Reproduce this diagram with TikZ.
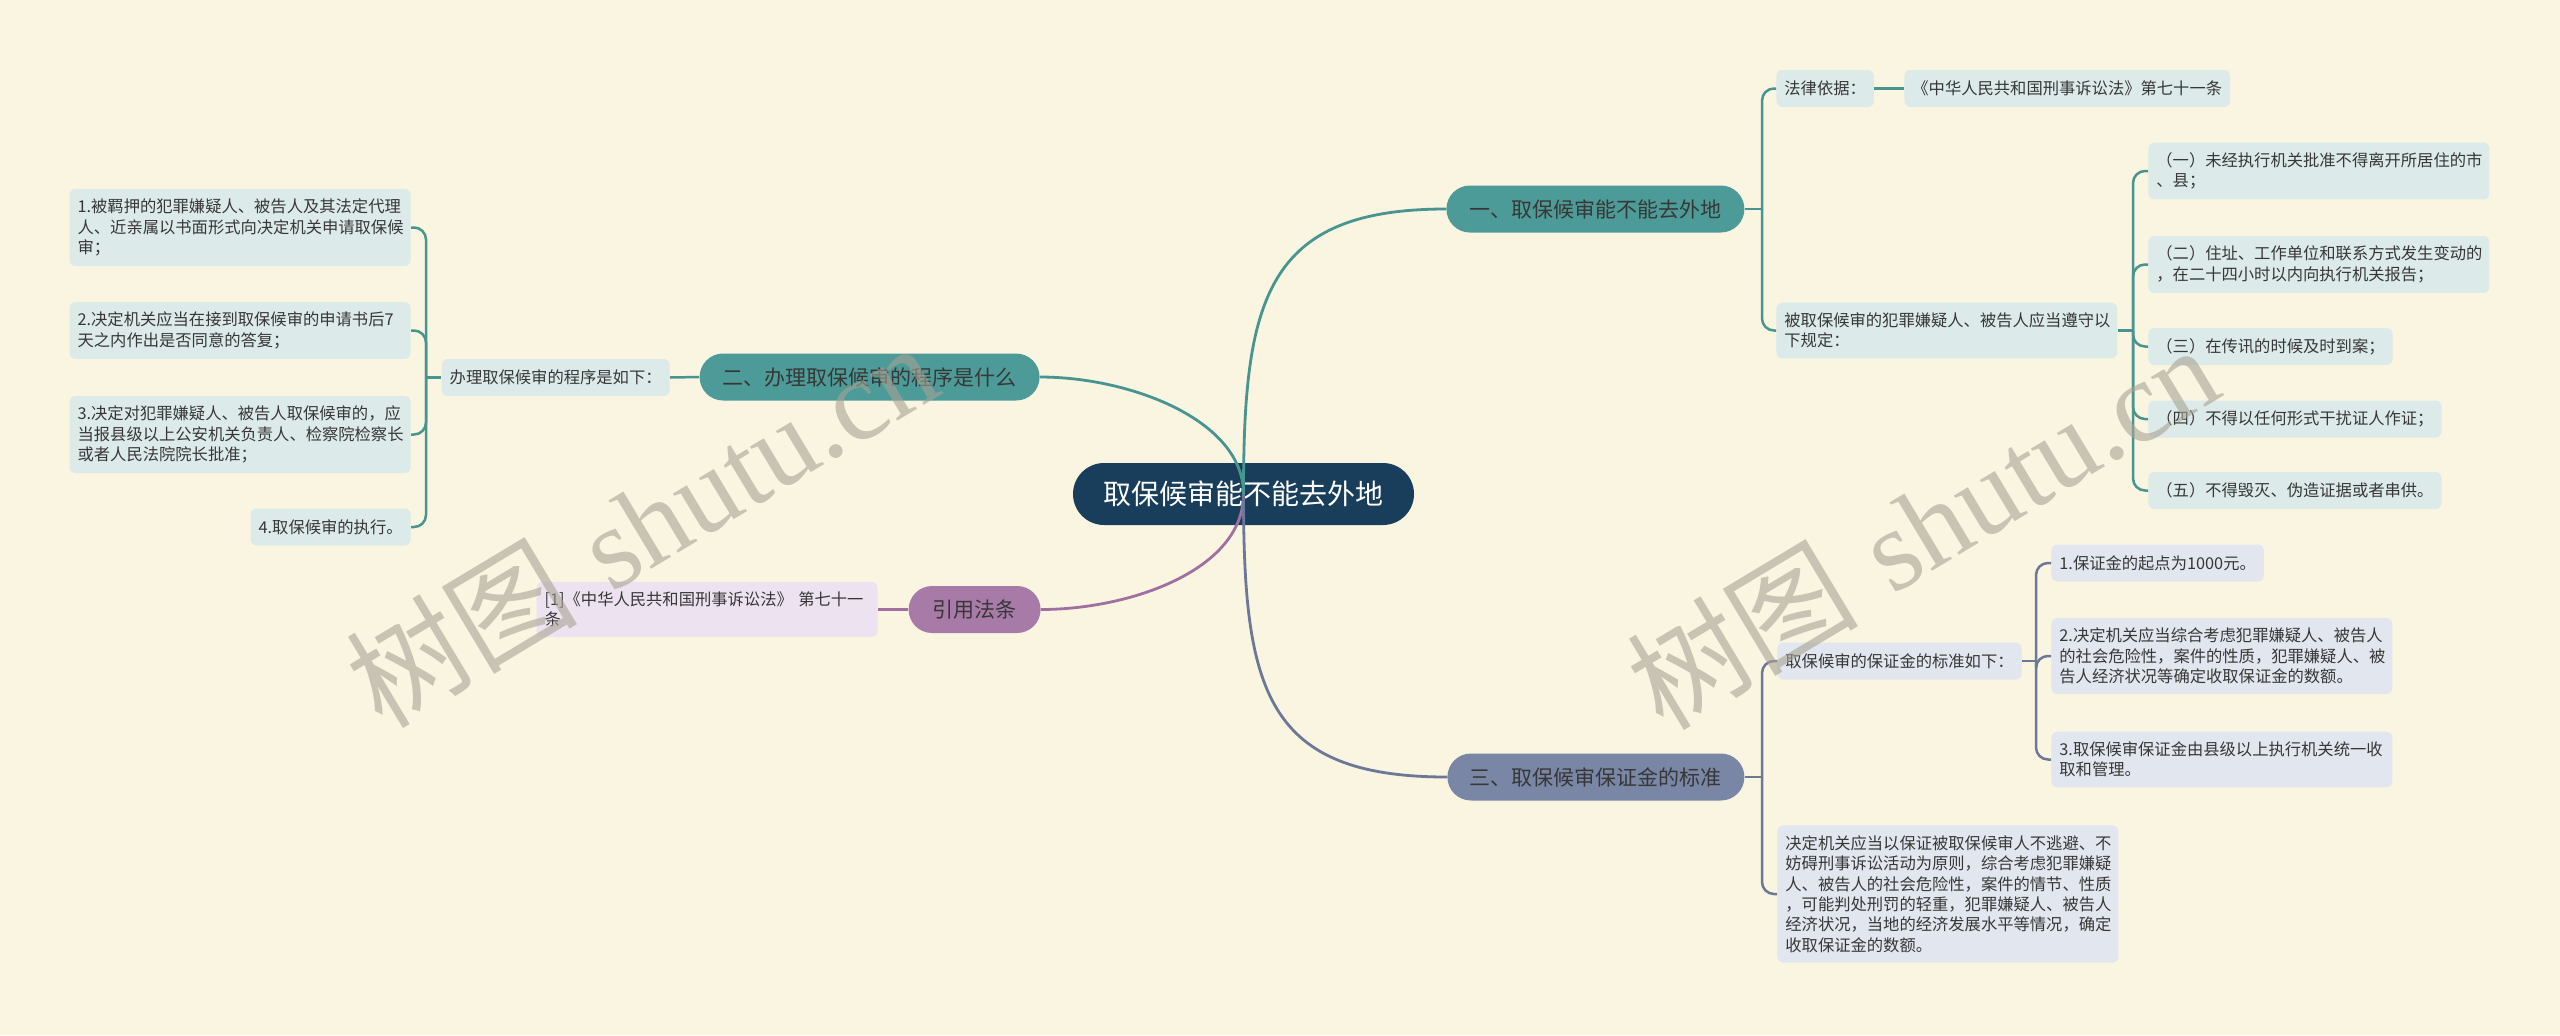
\documentclass[tikz,border=0pt]{standalone}
\usepackage{fontspec}
\newfontfamily\cjk{Noto Sans CJK SC}
\newfontfamily\wmlatin{Liberation Serif}
\definecolor{mapbg}{RGB}{250,245,225}
\definecolor{maproot}{RGB}{24,62,92}
\definecolor{mapteal}{RGB}{77,155,152}
\definecolor{mapteallink}{RGB}{72,148,145}
\definecolor{maptealpale}{RGB}{220,234,233}
\definecolor{mappurple}{RGB}{168,122,168}
\definecolor{mappurplelink}{RGB}{160,112,160}
\definecolor{mappurplepale}{RGB}{237,227,240}
\definecolor{mapslate}{RGB}{122,134,166}
\definecolor{mapslatelink}{RGB}{108,120,152}
\definecolor{mapslatepale}{RGB}{226,230,238}
\definecolor{maptext}{RGB}{55,55,55}
\definecolor{mapwm}{RGB}{167,163,147}
\usetikzlibrary{positioning}

\begin{document}
\begin{tikzpicture}[x=0.5pt, y=-0.5pt,
  topic/.style={font=\cjk\fontsize{14}{16}\selectfont, text=white, fill=maproot,
    minimum width=170.5pt, minimum height=31pt, rounded corners=15.5pt, inner sep=0pt},
  branch/.style={font=\cjk\fontsize{10.5}{12}\selectfont, text=maptext,
    minimum height=23.5pt, rounded corners=11.75pt, inner sep=0pt},
  leaf/.style={font=\cjk\fontsize{8.15}{10.2}\selectfont, text=maptext,
    inner xsep=4pt, inner ysep=5pt, minimum height=18.5pt, rounded corners=3pt},
  wide/.style={text width=162.5pt, align=left},
  link/.style={line width=1.4pt},
  twig/.style={line width=1.25pt, rounded corners=6pt},
  wmark/.style={font=\fontsize{58}{60}\selectfont, text=mapwm, opacity=0.6, rotate=31}]

\fill[mapbg] (0,0) rectangle (2560,1035);
\useasboundingbox (0,0) rectangle (2560,1035);

% centre
\node[topic] (root) at (1243.5,494) {取保候审能不能去外地};

% branch one
\node[branch, fill=mapteal, minimum width=149pt, anchor=west] (b1) at (1446,209) {一、取保候审能不能去外地};
\node[leaf, fill=maptealpale, anchor=west] (basis) at (1776,88.5) {法律依据：};
\node[leaf, fill=maptealpale, anchor=west] (law) at (1904,88.5) {《中华人民共和国刑事诉讼法》第七十一条};
\node[leaf, wide, fill=maptealpale, anchor=west] (rules) at (1776,330.5) {被取保候审的犯罪嫌疑人、被告人应当遵守以\\下规定：};
\node[leaf, wide, fill=maptealpale, anchor=west] (r1) at (2148,171) {（一）未经执行机关批准不得离开所居住的市\\、县；};
\node[leaf, wide, fill=maptealpale, anchor=west] (r2) at (2148,264.5) {（二）住址、工作单位和联系方式发生变动的\\，在二十四小时以内向执行机关报告；};
\node[leaf, fill=maptealpale, anchor=west] (r3) at (2148,346.5) {（三）在传讯的时候及时到案；};
\node[leaf, fill=maptealpale, anchor=west] (r4) at (2148,419) {（四）不得以任何形式干扰证人作证；};
\node[leaf, fill=maptealpale, anchor=west] (r5) at (2148,490.5) {（五）不得毁灭、伪造证据或者串供。};

% branch two
\node[branch, fill=mapteal, minimum width=170pt, anchor=east] (b2) at (1040,377) {二、办理取保候审的程序是什么};
\node[leaf, fill=maptealpale, anchor=east] (pr) at (670,377.5) {办理取保候审的程序是如下：};
\node[leaf, wide, fill=maptealpale, anchor=east] (n1) at (411,227.5) {1.被羁押的犯罪嫌疑人、被告人及其法定代理\\人、近亲属以书面形式向决定机关申请取保候\\审；};
\node[leaf, wide, fill=maptealpale, anchor=east] (n2) at (411,330.5) {2.决定机关应当在接到取保候审的申请书后7\\天之内作出是否同意的答复；};
\node[leaf, wide, fill=maptealpale, anchor=east] (n3) at (411,434.5) {3.决定对犯罪嫌疑人、被告人取保候审的，应\\当报县级以上公安机关负责人、检察院检察长\\或者人民法院院长批准；};
\node[leaf, fill=maptealpale, minimum width=79.5pt, anchor=east] (n4) at (411,527) {4.取保候审的执行。};

% citation
\node[branch, fill=mappurple, minimum width=66pt, anchor=east] (b4) at (1041,609.5) {引用法条};
\node[leaf, wide, fill=mappurplepale, anchor=east] (cite) at (878,609.5) {[1]《中华人民共和国刑事诉讼法》 第七十一\\条};

% branch three
\node[branch, fill=mapslate, minimum width=148.5pt, anchor=west] (b3) at (1447,777) {三、取保候审保证金的标准};
\node[leaf, fill=mapslatepale, anchor=west] (std) at (1777,661) {取保候审的保证金的标准如下：};
\node[leaf, fill=mapslatepale, anchor=west] (s1) at (2051,563) {1.保证金的起点为1000元。};
\node[leaf, wide, fill=mapslatepale, anchor=west] (s2) at (2051,656) {2.决定机关应当综合考虑犯罪嫌疑人、被告人\\的社会危险性，案件的性质，犯罪嫌疑人、被\\告人经济状况等确定收取保证金的数额。};
\node[leaf, wide, fill=mapslatepale, anchor=west] (s3) at (2051,759.5) {3.取保候审保证金由县级以上执行机关统一收\\取和管理。};
\node[leaf, wide, fill=mapslatepale, anchor=west] (dec) at (1777,894) {决定机关应当以保证被取保候审人不逃避、不\\妨碍刑事诉讼活动为原则，综合考虑犯罪嫌疑\\人、被告人的社会危险性，案件的情节、性质\\，可能判处刑罚的轻重，犯罪嫌疑人、被告人\\经济状况，当地的经济发展水平等情况，确定\\收取保证金的数额。};

% main curves
\draw[link, mapteallink] (root.center) .. controls (1243.5,300) and (1265,209) .. (b1.west);
\draw[link, mapteallink] (root.center) .. controls (1243.5,420) and (1130,377) .. (b2.east);
\draw[link, mappurplelink] (root.center) .. controls (1243.5,570) and (1130,609.5) .. (b4.east);
\draw[link, mapslatelink] (root.center) .. controls (1243.5,690) and (1265,777) .. (b3.west);

% brackets
\coordinate (j1) at (1762,209);
\coordinate (j2) at (426,377.5);
\coordinate (j3) at (2133,330.5);
\coordinate (j4) at (1762,777);
\coordinate (j5) at (2036,661);
\draw[twig, mapteallink] (b1.east) -- (j1);
\foreach \c in {basis,rules}
  \draw[twig, mapteallink] (j1) |- (\c.west);
\draw[twig, mapteallink] (basis.east) -- (law.west);
\draw[twig, mapteallink] (rules.east) -- (j3);
\foreach \c in {r1,r2,r3,r4,r5}
  \draw[twig, mapteallink] (j3) |- (\c.west);
\draw[twig, mapteallink] (b2.west) -- (pr.east);
\draw[twig, mapteallink] (pr.west) -- (j2);
\foreach \c in {n1,n2,n3,n4}
  \draw[twig, mapteallink] (j2) |- (\c.east);
\draw[twig, mappurplelink] (b4.west) -- (cite.east);
\draw[twig, mapslatelink] (b3.east) -- (j4);
\foreach \c in {std,dec}
  \draw[twig, mapslatelink] (j4) |- (\c.west);
\draw[twig, mapslatelink] (std.east) -- (j5);
\foreach \c in {s1,s2,s3}
  \draw[twig, mapslatelink] (j5) |- (\c.west);

% watermark
\node[wmark] (wm1) at (641,524) {{\cjk 树图} {\wmlatin shutu.cn}};
\node[wmark] (wm2) at (1922,526) {{\cjk 树图} {\wmlatin shutu.cn}};

\end{tikzpicture}
\end{document}
